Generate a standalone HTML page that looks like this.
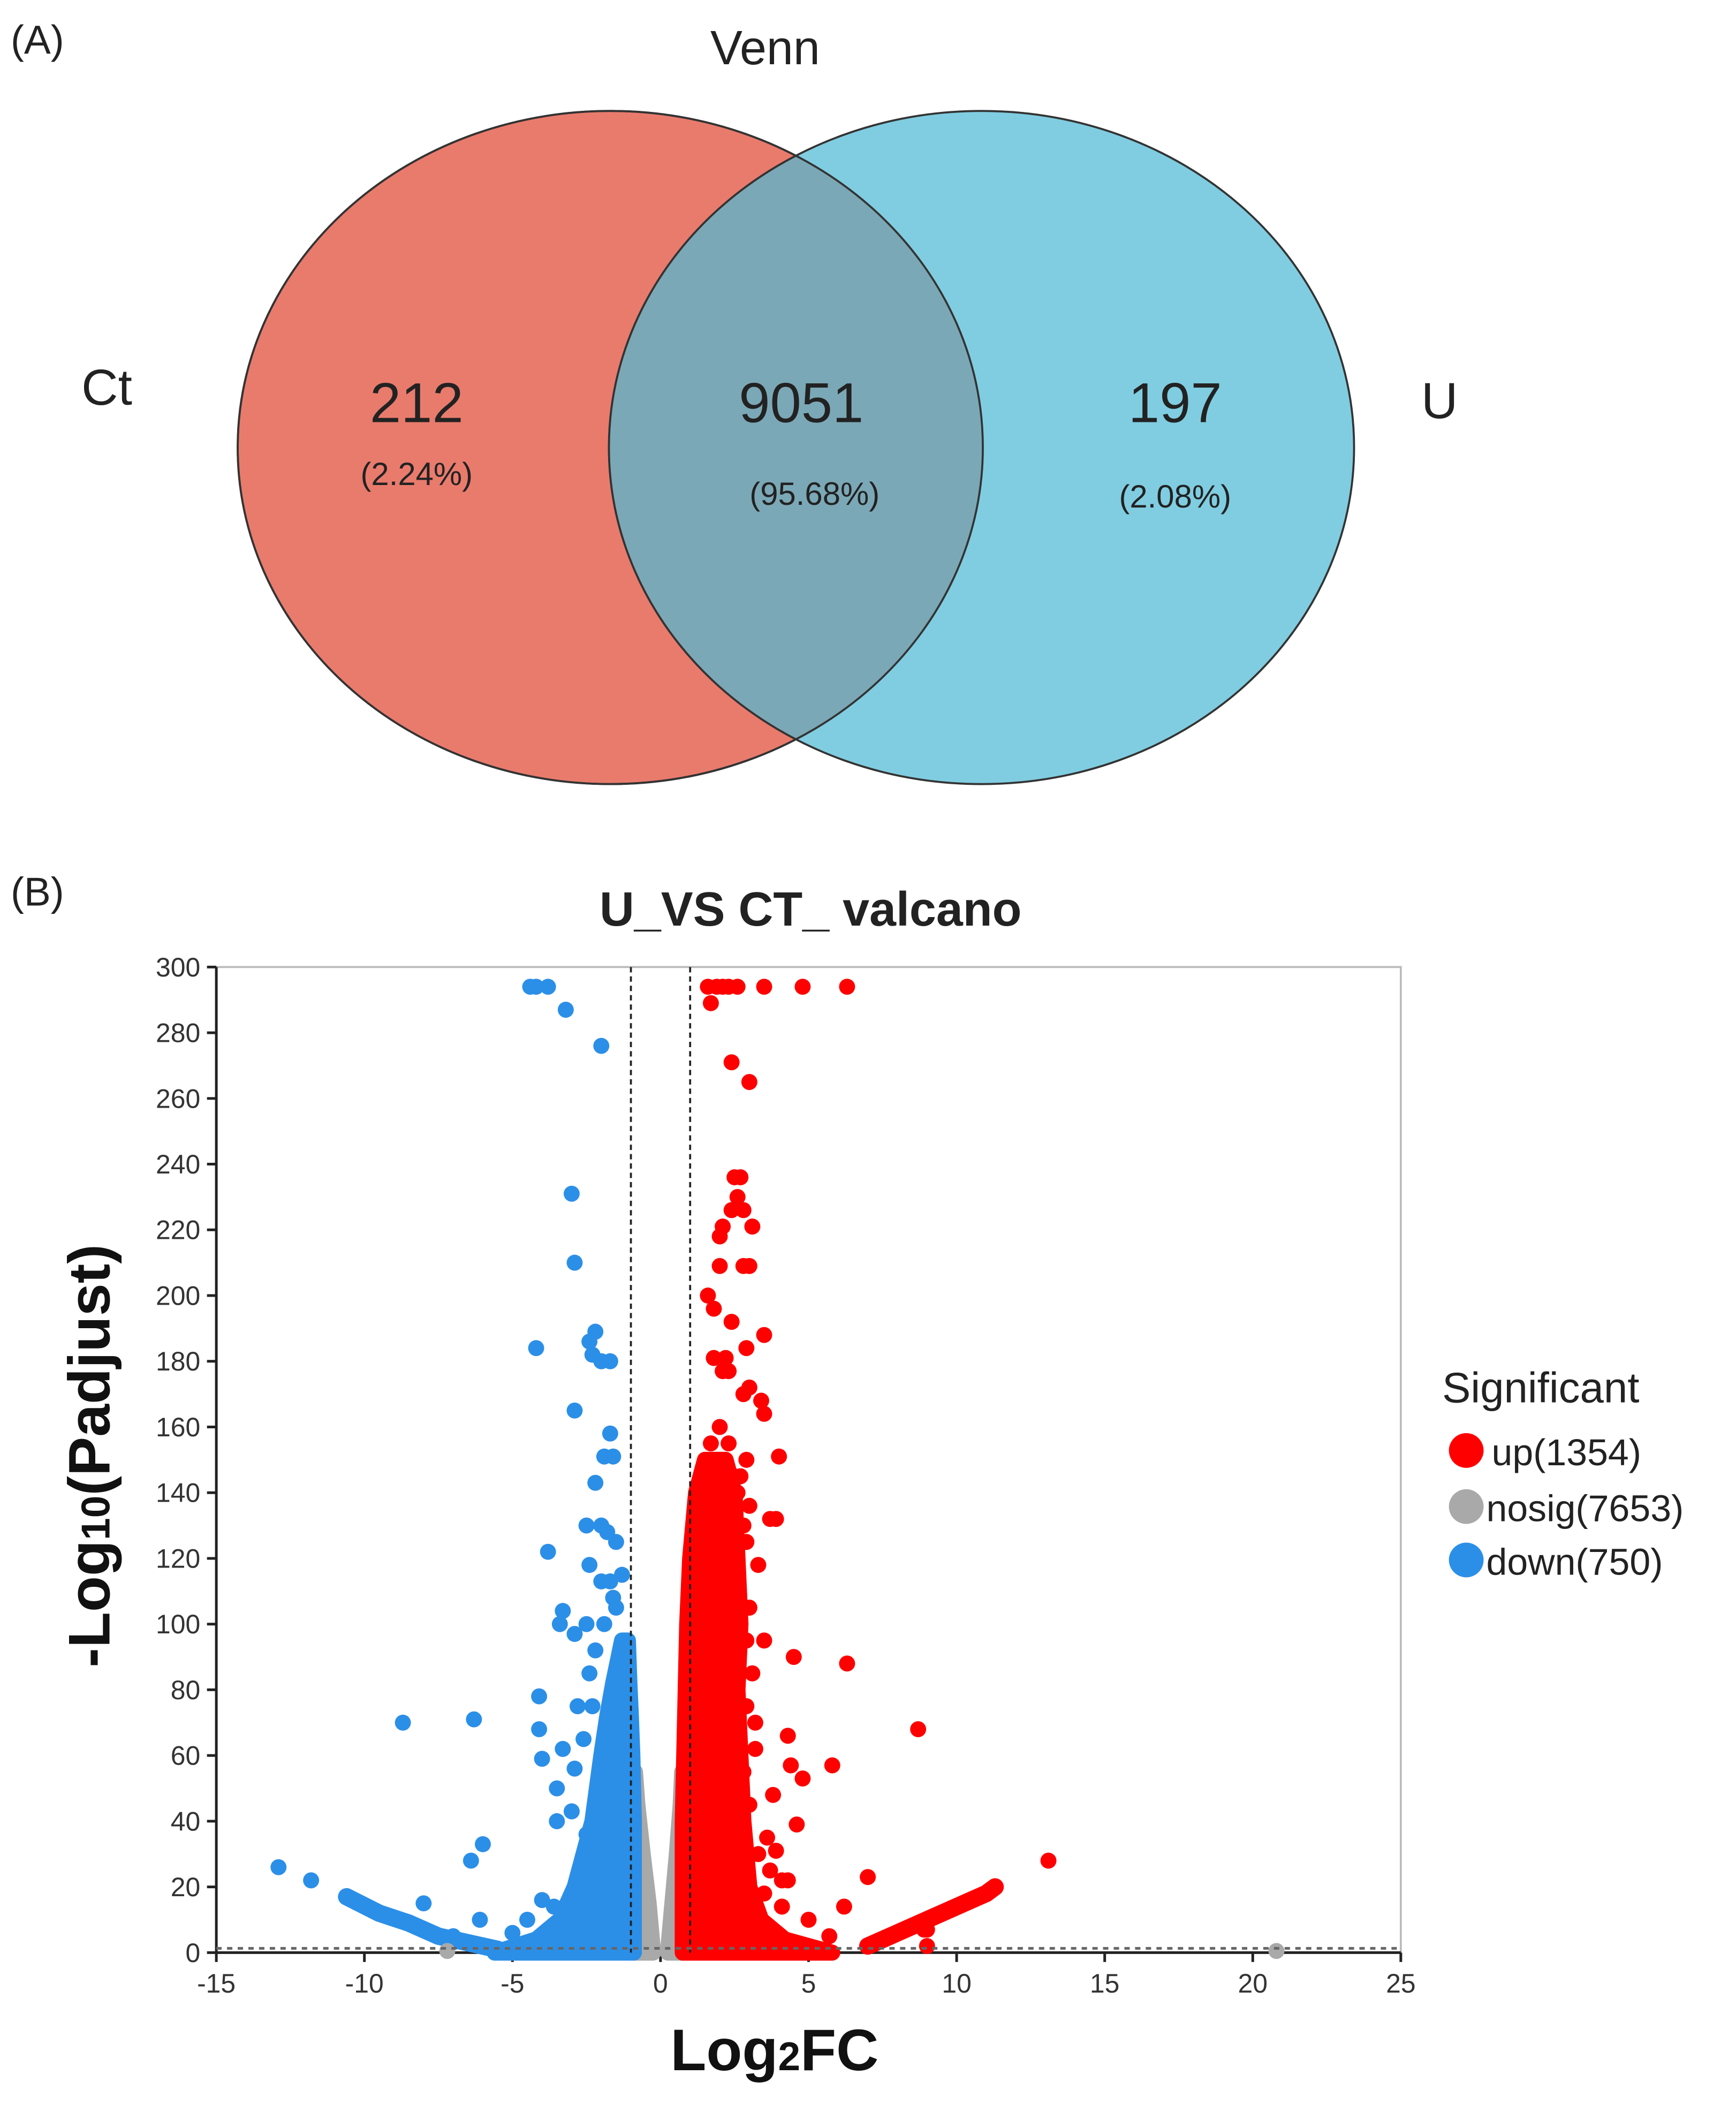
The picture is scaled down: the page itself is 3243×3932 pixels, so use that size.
<!DOCTYPE html>
<html><head><meta charset="utf-8"><style>
html,body{margin:0;padding:0;background:#fff;}
svg{display:block;font-family:"Liberation Sans",sans-serif;}
</style></head><body>
<svg id="fig" width="3243" height="3932" viewBox="0 0 1300 1576" xmlns="http://www.w3.org/2000/svg">
<rect width="1300" height="1576" fill="#fff"/>
<g>
<text x="8" y="40" font-size="30" fill="#222">(A)</text>
<text x="573" y="48" font-size="36" text-anchor="middle" fill="#222">Venn</text>
<ellipse cx="457" cy="335" rx="279" ry="252" fill="#E97B6D" stroke="#333" stroke-width="1.5"/>
<ellipse cx="735" cy="335" rx="279" ry="252" fill="#80CDE1" stroke="#333" stroke-width="1.5"/>
<clipPath id="cl"><ellipse cx="457" cy="335" rx="279" ry="252"/></clipPath>
<ellipse cx="735" cy="335" rx="279" ry="252" fill="#7BA8B6" stroke="#333" stroke-width="1.5" clip-path="url(#cl)"/>
<ellipse cx="457" cy="335" rx="279" ry="252" fill="none" stroke="#333" stroke-width="1.5"/>
<text x="80" y="303" font-size="38" text-anchor="middle" fill="#222">Ct</text>
<text x="1078" y="313" font-size="38" text-anchor="middle" fill="#222">U</text>
<text x="312" y="316" font-size="42" text-anchor="middle" fill="#222">212</text>
<text x="312" y="363" font-size="24" text-anchor="middle" fill="#222">(2.24%)</text>
<text x="600" y="316" font-size="42" text-anchor="middle" fill="#222">9051</text>
<text x="610" y="378" font-size="24" text-anchor="middle" fill="#222">(95.68%)</text>
<text x="880" y="316" font-size="42" text-anchor="middle" fill="#222">197</text>
<text x="880" y="380" font-size="24" text-anchor="middle" fill="#222">(2.08%)</text>
</g>
<text x="8" y="678" font-size="30" fill="#222">(B)</text>
<text x="607" y="693" font-size="36" font-weight="bold" text-anchor="middle" fill="#222">U_VS CT_ valcano</text>
<g id="plot"></g>
<text transform="translate(82,1090) rotate(-90)" font-size="44" font-weight="bold" text-anchor="middle" fill="#111">-Log<tspan font-size="30">10</tspan>(Padjust)</text>
<text x="580" y="1550" font-size="44" font-weight="bold" text-anchor="middle" fill="#111">Log<tspan font-size="30">2</tspan>FC</text>
<g>
<text x="1080" y="1050" font-size="32" fill="#222">Significant</text>
<circle cx="1098" cy="1086" r="13" fill="#FF0000"/>
<text x="1117" y="1097" font-size="28" fill="#222">up(1354)</text>
<circle cx="1098" cy="1128" r="13" fill="#A9A9A9"/>
<text x="1113" y="1139" font-size="28" fill="#222">nosig(7653)</text>
<circle cx="1098" cy="1168" r="13" fill="#2B8FE8"/>
<text x="1113" y="1179" font-size="28" fill="#222">down(750)</text>
</g>
</svg>
<script>
const xTicks=[-15,-10,-5,0,5,10,15,20,25];
const yTicks=[0,20,40,60,80,100,120,140,160,180,200,220,240,260,280,300];
const fcCut=[-1,1];
const padjCut=1.3;
// dense cores: [y, xmin, xmax]
const upCore=[[0,0.75,5.8],[4,0.75,4.2],[10,0.75,3.4],[20,0.75,3.0],[40,0.75,2.8],[60,0.8,2.7],[80,0.85,2.6],[100,0.9,2.7],[120,1.0,2.6],[140,1.2,2.5],[150,1.5,2.2]];
const upArm=[[7,2],[8,6],[9,10],[10,14],[11,18],[11.3,20]];
const downCore=[[0,-5.6,-0.9],[4,-4.2,-0.9],[10,-3.4,-0.9],[20,-2.9,-0.9],[40,-2.3,-0.9],[60,-2.0,-0.95],[72,-1.8,-1.0],[82,-1.6,-1.05],[95,-1.3,-1.1]];
const downArm=[[-10.6,17],[-9.5,12],[-8.5,9],[-7.5,5],[-6.5,3],[-5.5,1]];
const nosigCore=[[0,-0.9,-0.25],[15,-0.9,-0.4],[30,-0.9,-0.6],[45,-0.9,-0.78],[55,-0.9,-0.86],[0,0.25,0.75],[15,0.4,0.75],[30,0.55,0.75],[45,0.68,0.75],[55,0.73,0.75]];
const upPoints=[[1.6,294],[1.9,294],[2.1,294],[2.3,294],[2.6,294],[3.5,294],[4.8,294],[6.3,294],[1.7,289],[2.4,271],[3.0,265],[2.5,236],[2.7,236],[2.6,230],[2.4,226],[2.8,226],[2.1,221],[3.1,221],[2.0,218],[2.0,209],[2.8,209],[3.0,209],[1.6,200],[1.8,196],[2.4,192],[3.5,188],[2.9,184],[1.8,181],[2.2,181],[2.1,177],[2.3,177],[3.0,172],[2.8,170],[3.4,168],[3.5,164],[2.0,160],[1.7,155],[2.3,155],[4.0,151],[2.5,145],[1.8,140],[2.6,140],[3.0,136],[3.7,132],[3.9,132],[1.5,128],[2.9,125],[3.3,118],[2.5,110],[3.5,95],[4.5,90],[6.3,88],[2.9,75],[8.7,68],[4.3,66],[3.2,62],[4.4,57],[5.8,57],[4.8,53],[3.8,48],[4.6,39],[3.6,35],[3.9,31],[13.1,28],[3.7,25],[7.0,23],[4.1,22],[4.3,22],[3.5,18],[4.1,14],[6.2,14],[5.0,10],[8.9,7],[9.0,7],[5.7,5],[9.0,2],[3.3,30],[3.0,45],[2.8,55],[2.9,95],[3.0,105],[2.8,130],[1.3,120],[2.9,150],[3.1,85],[3.2,70],[2.7,145]];
const downPoints=[[-4.4,294],[-4.2,294],[-3.8,294],[-3.2,287],[-2.0,276],[-3.0,231],[-2.9,210],[-2.2,189],[-2.4,186],[-4.2,184],[-2.3,182],[-2.0,180],[-1.7,180],[-2.9,165],[-1.7,158],[-1.9,151],[-1.6,151],[-2.2,143],[-2.5,130],[-2.0,130],[-1.8,128],[-1.5,125],[-3.8,122],[-2.4,118],[-2.0,113],[-1.7,113],[-1.6,108],[-3.3,104],[-3.4,100],[-2.5,100],[-2.9,97],[-2.2,92],[-2.4,85],[-1.4,80],[-4.1,78],[-2.8,75],[-6.3,71],[-8.7,70],[-4.1,68],[-3.3,62],[-4.0,59],[-2.9,56],[-3.5,50],[-3.0,43],[-3.5,40],[-2.5,36],[-6.0,33],[-6.4,28],[-12.9,26],[-11.8,22],[-8.0,15],[-6.1,10],[-4.0,16],[-7.0,5],[-5.0,6],[-4.5,10],[-3.6,14],[-2.6,65],[-2.3,75],[-1.9,100],[-1.5,105],[-1.3,115]];
const nosigPoints=[[20.8,0.5],[-7.2,0.5]];

const NS='http://www.w3.org/2000/svg';
const X=v=>162+(v+15)*(887/40);
const Y=v=>1462-v*(738/300);
const plot=document.getElementById('plot');
function mk(t,a){const e=document.createElementNS(NS,t);for(const k in a)e.setAttribute(k,a[k]);plot.appendChild(e);return e;}
let e=mk('rect',{x:X(-15),y:Y(300),width:X(25)-X(-15),height:Y(0)-Y(300),fill:'none',stroke:'#bbb','stroke-width':1.5});


e=mk('line',{x1:X(-15),y1:Y(0),x2:X(25),y2:Y(0),stroke:'#222','stroke-width':2});


e=mk('line',{x1:X(-15),y1:Y(0),x2:X(-15),y2:Y(300),stroke:'#222','stroke-width':2});


xTicks.forEach(t=>{
  mk('line',{x1:X(t),y1:Y(0),x2:X(t),y2:Y(0)+7,stroke:'#222','stroke-width':2});
  const tx=mk('text',{x:X(t),y:Y(0)+30,'font-size':20,'text-anchor':'middle',fill:'#333'});tx.textContent=t;
  
  
});
yTicks.forEach(t=>{
  mk('line',{x1:X(-15)-7,y1:Y(t),x2:X(-15),y2:Y(t),stroke:'#222','stroke-width':2});
  const tx=mk('text',{x:X(-15)-12,y:Y(t)+7,'font-size':20,'text-anchor':'end',fill:'#333'});tx.textContent=t;
  
  
});
function core(arr,color,name){
  const l=arr.map(r=>X(r[1])+','+Y(r[0])),rr=arr.slice().reverse().map(r=>X(r[2])+','+Y(r[0]));
  const p=mk('polygon',{points:l.concat(rr).join(' '),fill:color,stroke:color,'stroke-width':12,'stroke-linejoin':'round'});
  
  
}
function arm(arr,color,name){
  const p=mk('polyline',{points:arr.map(r=>X(r[0])+','+Y(r[1])).join(' '),fill:'none',stroke:color,'stroke-width':13,'stroke-linecap':'round','stroke-linejoin':'round'});
  
  
}
core(nosigCore.slice(0,5),'#A9A9A9','nosig-core-left');
core(nosigCore.slice(5),'#A9A9A9','nosig-core-right');
core(upCore,'#FF0000','up-core');
core(downCore,'#2B8FE8','down-core');
arm(upArm,'#FF0000','up-arm');
arm(downArm,'#2B8FE8','down-arm');
function pts(arr,color,name){arr.forEach(p=>{const c=mk('circle',{cx:X(p[0]),cy:Y(p[1]),r:6,fill:color});
  
  });}
pts(nosigPoints,'#A9A9A9','nosig-point');
pts(upPoints,'#FF0000','up-point');
pts(downPoints,'#2B8FE8','down-point');
fcCut.forEach(v=>{const l=mk('line',{x1:X(v),y1:Y(300),x2:X(v),y2:Y(0),stroke:'#222','stroke-width':1.5,'stroke-dasharray':'4,3'});
  
  });
e=mk('line',{x1:X(-15),y1:Y(padjCut),x2:X(25),y2:Y(padjCut),stroke:'#666','stroke-width':2,'stroke-dasharray':'4,4'});


</script>
</body></html>
